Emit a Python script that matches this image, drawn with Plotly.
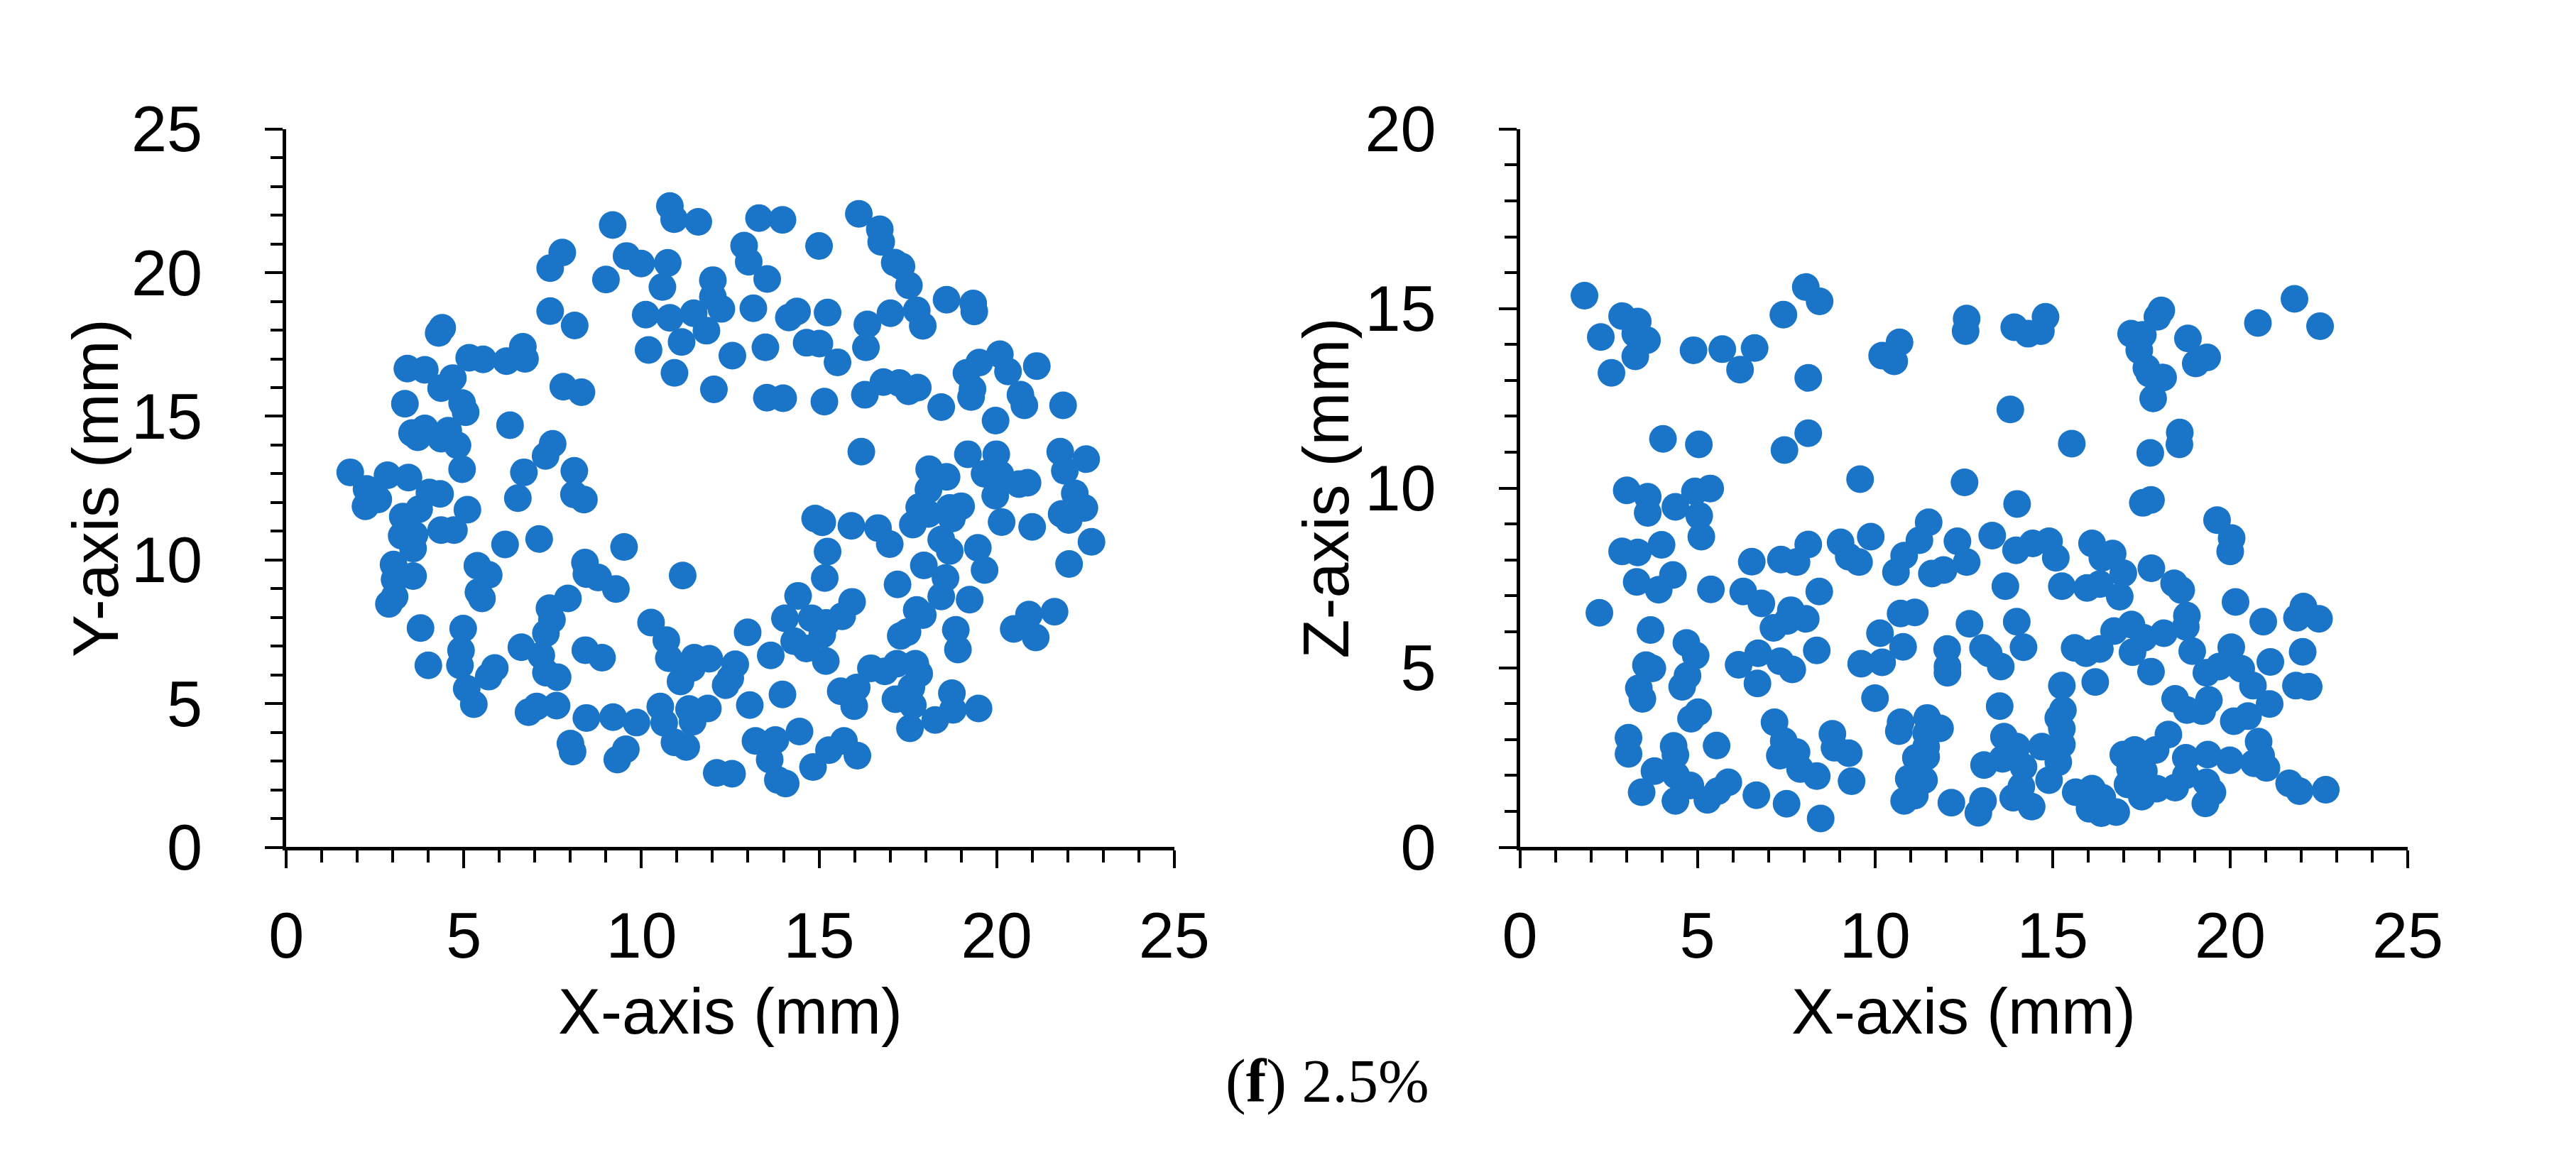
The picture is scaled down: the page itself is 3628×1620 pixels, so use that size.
import plotly.graph_objects as go

# left panel: X-Y positions (mm)
xy_x = [4.39, 4.29, 3.41, 3.90, 5.15, 5.54, 6.20, 6.66, 6.72, 4.69, 4.36, 3.34, 4.95, 5.05, 6.30,
        3.54, 3.90, 3.70, 4.56, 4.36, 4.82, 4.95, 1.80, 2.85, 3.44, 2.26, 4.03, 4.33, 6.69,
        2.23, 2.59, 3.28, 3.74, 3.25, 3.61, 3.57, 4.36, 4.72, 5.10, 6.52, 6.16, 3.02, 3.05, 3.57,
        3.05, 2.89, 5.38, 5.70, 5.41, 5.51, 3.78, 4.98, 4.92, 4.00, 4.89, 5.87, 5.70, 5.08, 5.28,
        6.62, 6.82, 7.05,
        10.80, 10.92, 11.60, 9.19, 13.31, 13.97, 12.89, 13.02, 13.54, 7.77, 7.43, 9.58, 9.99, 10.74,
        9.00, 10.59, 12.01, 12.01, 12.25, 13.15, 7.43, 8.12, 10.12, 10.80, 11.47, 11.83, 11.13,
        10.20, 10.93, 12.56, 13.49, 12.04, 13.53, 13.99, 7.80, 8.31, 7.50, 7.30, 8.11, 8.10, 8.38,
        7.12, 9.51, 8.41, 8.45, 8.78, 9.28, 11.16, 7.93, 7.41, 7.48, 7.31, 10.27, 10.70, 10.77, 11.49,
        11.91, 11.42, 11.10, 12.64, 12.50, 12.37, 12.99, 13.64, 13.97, 13.05, 8.42, 8.89, 7.61, 7.18,
        7.31, 7.64, 8.45, 9.20, 9.86, 10.53, 10.64, 10.93, 11.26, 11.34, 11.87, 11.44, 8.00, 8.06,
        9.56, 9.32, 12.12, 12.55, 13.21, 13.77, 13.61, 13.84, 14.06,
        16.12, 16.71, 16.75, 15.00, 17.13, 17.32, 17.53, 18.59, 19.34, 19.37,
        14.38, 14.15, 15.24, 16.36, 16.32, 17.01, 17.75, 17.92, 14.65, 15.01,
        15.52, 15.15, 16.29, 16.81, 17.26, 17.52, 17.78, 18.44, 19.15, 19.51,
        20.09, 20.32, 19.32, 19.28, 21.13, 20.67, 20.78, 19.97, 21.87, 16.19,
        19.19, 19.99, 21.79, 22.52, 21.92, 18.10, 18.59, 18.08, 19.66, 20.11,
        19.96, 20.63, 20.87, 22.20, 22.47, 21.83, 22.03, 22.67, 22.04, 21.00,
        20.14, 17.82, 17.64, 18.08, 18.68, 19.00, 18.74, 18.44, 18.68, 19.47,
        19.66, 17.95, 18.56, 18.44, 19.24, 17.21, 17.75, 17.92, 17.30, 17.49,
        18.85, 18.91, 20.91, 20.48, 21.10, 21.63, 14.89, 15.09, 15.91, 16.66,
        16.99, 15.24, 15.16, 14.41, 15.93, 15.65, 14.04, 14.79, 15.20, 14.30,
        14.64, 15.09, 15.19, 16.46, 16.85, 17.19, 17.71, 17.82, 15.61, 16.06,
        15.99, 17.15, 17.60, 17.64, 17.56, 18.74, 18.77, 18.27, 19.49, 14.45,
        15.28, 15.70, 16.08, 14.83]
xy_y = [18.08, 17.90, 16.66, 16.62, 17.04, 16.98, 16.92, 17.42, 17.00, 16.33, 15.98, 15.44, 15.46, 15.14, 14.69,
        14.42, 14.58, 14.27, 14.50, 14.22, 13.99, 13.16, 13.05, 12.95, 12.87, 12.47, 12.35, 12.30, 13.05,
        11.87, 12.11, 11.51, 11.77, 10.84, 10.88, 10.40, 11.04, 11.04, 11.75, 12.15, 10.54, 9.84, 9.32, 9.44,
        8.72, 8.47, 9.80, 9.48, 8.88, 8.66, 7.63, 7.61, 6.85, 6.33, 6.33, 6.24, 5.94, 5.52, 4.98,
        6.96, 4.70, 4.90,
        22.32, 21.86, 21.77, 21.66, 21.90, 21.84, 20.94, 20.38, 19.78, 20.70, 20.16, 20.58, 20.32, 20.34,
        19.76, 19.50, 19.74, 19.16, 18.74, 18.76, 18.66, 18.16, 18.54, 18.43, 18.59, 17.98, 17.59,
        17.31, 16.51, 17.11, 17.40, 15.94, 15.65, 15.63, 16.03, 15.84, 14.04, 13.62, 13.10, 12.28, 12.10,
        10.73, 10.45, 9.91, 9.51, 9.39, 8.99, 9.46, 8.66, 8.32, 7.92, 7.45, 7.82, 7.21, 6.58, 6.60,
        6.56, 6.24, 5.77, 6.37, 5.88, 5.64, 7.48, 6.68, 5.32, 4.95, 6.86, 6.60, 4.93, 6.68,
        6.08, 5.92, 4.50, 4.53, 4.34, 4.90, 4.33, 3.65, 3.49, 4.81, 4.83, 4.37, 3.61, 3.33,
        3.41, 3.05, 2.59, 2.56, 3.70, 3.73, 3.05, 2.34, 2.22,
        22.05, 21.51, 21.07, 20.93, 20.35, 20.22, 19.56, 19.06, 18.93, 18.65,
        18.65, 18.44, 18.61, 18.20, 17.40, 18.59, 18.69, 18.15, 17.56, 17.53,
        16.88, 15.51, 15.75, 16.19, 16.16, 15.87, 16.00, 15.32, 16.51, 16.87,
        17.16, 16.56, 15.95, 15.67, 16.75, 15.75, 15.38, 14.85, 15.38, 13.77,
        13.68, 13.68, 13.77, 13.51, 13.10, 13.16, 12.89, 12.45, 13.00, 12.97,
        12.24, 12.64, 12.69, 12.32, 11.81, 11.60, 11.39, 10.63, 9.86, 11.15,
        11.32, 11.84, 11.23, 11.60, 11.81, 11.87, 11.44, 10.71, 10.31, 10.42,
        9.65, 9.81, 9.37, 8.73, 8.62, 9.15, 8.26, 8.08, 7.36, 7.49,
        7.57, 6.88, 8.10, 7.60, 7.30, 8.20, 11.44, 11.31, 11.19, 11.11,
        10.55, 10.29, 9.37, 8.75, 8.54, 8.04, 7.97, 7.97, 7.81, 7.17,
        6.92, 7.40, 6.48, 6.23, 6.12, 6.39, 6.39, 6.04, 5.43, 5.56,
        4.91, 5.15, 5.56, 4.94, 4.14, 5.36, 4.78, 4.43, 4.83, 4.03,
        3.38, 3.70, 3.19, 2.79]

# right panel: X-Z positions (mm)
xz_x = [1.82, 2.88, 3.32, 2.28, 3.25, 3.58, 3.25, 2.58, 4.89, 5.70, 6.61, 6.20, 7.42, 4.03, 5.04,
        7.45, 3.01, 3.60, 3.60, 4.38, 4.93, 5.36, 5.05,
        8.05, 8.44, 10.69, 10.20, 10.54, 12.58, 12.55, 13.92, 14.31, 14.67, 14.80, 8.12, 13.81, 8.12,
        15.54, 9.58, 12.52, 14.00, 11.51,
        18.06, 17.95, 17.21, 17.54, 17.44, 17.64, 17.72, 18.11, 17.83, 18.81, 19.35, 19.03, 20.78,
        21.81, 22.53, 18.58, 18.57, 17.75, 17.54, 17.77, 19.63,
        2.88, 3.32, 3.99, 5.11, 3.29, 4.31, 3.91, 5.38, 2.24, 6.53, 7.35, 7.79, 8.12, 6.29, 6.80,
        7.63, 7.14, 7.53, 8.05, 3.68, 4.69, 4.95, 3.55, 3.73, 3.35, 3.45, 4.72, 4.57, 6.16, 6.71,
        7.33, 7.67, 6.69, 5.02, 4.82, 3.06, 3.06, 4.33, 4.38, 5.54, 3.79, 4.40, 3.43, 4.80, 4.38,
        5.28, 5.57, 5.87, 6.66, 7.51, 7.17, 7.43, 7.32, 7.79, 7.89,
        9.03, 9.26, 9.55, 9.88, 11.25, 10.82, 10.59, 11.60, 11.93, 12.32, 12.58, 13.30, 13.97, 14.44,
        14.90, 15.09, 16.11, 16.40, 8.43, 8.36, 10.14, 10.79, 10.72, 11.12, 9.61, 10.20, 12.03, 12.04,
        12.04, 12.66, 13.04, 13.20, 13.54, 13.67, 13.99, 14.18, 15.26, 15.97, 16.33, 15.62, 15.94,
        16.33, 10.00, 8.80, 8.86, 9.26, 8.36, 9.34, 8.47, 10.72, 10.67, 11.47, 11.83, 11.44, 11.44,
        11.15, 11.44, 10.95, 11.38, 11.12, 10.82, 12.15, 13.04, 12.91, 13.51, 13.63, 13.99, 13.59,
        13.07, 15.26, 15.29, 15.16, 15.26, 15.26, 14.70, 15.16, 14.90, 14.18, 14.12, 14.41, 13.89,
        16.20, 15.65, 16.11, 16.40, 16.04, 16.37,
        20.04, 20.00, 16.69, 16.99, 16.89, 17.78, 18.42, 18.62, 20.15, 20.93, 22.06, 21.88, 22.50,
        18.78, 18.75, 16.73, 17.22, 17.57, 17.25, 18.13, 18.93, 17.77, 20.03, 19.33, 19.69, 20.31,
        20.64, 19.40, 18.45, 18.78, 19.21, 21.13, 22.04, 21.85, 22.21, 21.11, 20.10, 20.50, 20.80,
        20.87, 21.02, 20.67, 19.99, 19.37, 18.75, 18.26, 16.99, 17.31, 17.90, 17.18, 17.57, 17.11,
        17.51, 16.79, 17.93, 18.45, 18.75, 19.33, 19.50, 19.30, 21.66, 21.95, 22.69]
xz_z = [15.36, 14.79, 14.64, 14.21, 14.30, 14.12, 13.67, 13.21, 13.84, 13.87, 13.90, 13.30, 14.83, 11.37, 11.22,
        11.06, 9.94, 9.76, 9.31, 9.48, 9.91, 9.99, 9.23,
        15.60, 15.20, 14.06, 13.69, 13.53, 14.72, 14.37, 14.48, 14.30, 14.37, 14.77, 13.07, 12.19, 11.53,
        11.24, 10.25, 10.16, 9.56, 9.05,
        14.95, 14.77, 14.30, 14.27, 13.84, 13.35, 13.19, 13.08, 12.50, 14.17, 13.64, 13.47, 14.60,
        15.27, 14.51, 11.55, 11.22, 10.98, 9.59, 9.67, 9.11,
        8.24, 8.21, 8.42, 8.65, 7.39, 7.58, 7.17, 7.18, 6.53, 7.95, 8.01, 7.94, 8.43, 7.12, 6.79,
        6.60, 6.11, 6.30, 6.36, 6.05, 5.69, 5.34, 5.07, 4.98, 4.43, 4.13, 4.78, 4.47, 5.08, 5.40,
        5.18, 4.95, 4.56, 3.76, 3.58, 3.05, 2.60, 2.82, 2.57, 2.83, 2.12, 2.00, 1.53, 1.72, 1.29,
        1.32, 1.56, 1.81, 1.45, 1.21, 3.48, 2.96, 2.55, 2.65, 2.18,
        8.49, 8.09, 7.94, 8.65, 8.55, 8.12, 7.66, 7.62, 7.72, 8.52, 7.94, 8.68, 8.27, 8.46,
        8.52, 8.06, 8.46, 8.06, 7.12, 5.48, 5.96, 5.58, 6.51, 6.54, 5.11, 5.15, 5.52, 5.03,
        4.86, 6.22, 5.55, 5.40, 5.03, 7.27, 6.28, 5.57, 7.27, 7.22, 7.33, 5.55, 5.40,
        5.52, 4.15, 3.16, 2.77, 2.62, 1.98, 1.84, 0.80, 3.48, 3.23, 3.60, 3.31, 3.17, 2.80,
        2.49, 2.52, 1.91, 1.87, 1.44, 1.29, 1.24, 1.29, 0.96, 3.93, 3.08, 2.80, 2.46,
        2.29, 4.50, 3.82, 3.60, 3.30, 2.86, 2.80, 2.37, 1.87, 2.24, 1.69, 1.13, 1.38,
        4.60, 1.53, 1.63, 1.38, 1.07, 0.95,
        8.61, 8.24, 8.18, 7.63, 6.98, 7.77, 7.35, 7.16, 6.83, 6.28, 6.70, 6.39, 6.36,
        6.45, 6.14, 6.02, 6.20, 5.83, 5.43, 5.96, 5.46, 4.89, 5.57, 4.86, 5.03, 4.97,
        4.50, 4.10, 4.13, 3.82, 3.79, 5.16, 5.44, 4.50, 4.47, 3.99, 3.51, 3.65, 2.94,
        2.55, 2.21, 2.34, 2.42, 2.58, 2.49, 3.14, 2.58, 2.71, 2.71, 2.18, 2.12, 1.75,
        1.41, 0.98, 1.63, 1.66, 2.00, 1.81, 1.53, 1.22, 1.78, 1.56, 1.60]

W, H = 3628, 1620
blue = "#1A75C8"
tick_font = dict(family="Liberation Sans, Arial", size=90, color="black")

fig = go.Figure()
fig.add_trace(go.Scatter(x=xy_x, y=xy_y, mode="markers", xaxis="x", yaxis="y",
                         marker=dict(size=39, color=blue, line=dict(width=0))))
fig.add_trace(go.Scatter(x=xz_x, y=xz_z, mode="markers", xaxis="x2", yaxis="y2",
                         marker=dict(size=39, color=blue, line=dict(width=0))))


def ax(domain, rng, anchor, standoff):
    return dict(domain=domain, range=rng, anchor=anchor, dtick=5, tick0=0,
                ticks="outside", ticklen=25, tickwidth=4, tickcolor="black",
                minor=dict(dtick=1, ticks="outside", ticklen=17, tickwidth=4, tickcolor="black"),
                showline=True, linewidth=5, linecolor="black", showgrid=False, zeroline=False,
                tickfont=tick_font, ticklabelstandoff=standoff, fixedrange=True)


ydom = [(H - 1211) / H, (H - 132) / H]
fig.update_layout(
    width=W, height=H, margin=dict(l=0, r=0, t=0, b=0),
    paper_bgcolor="white", plot_bgcolor="white", showlegend=False,
    xaxis=ax([378 / W, 1655 / W], [0, 25], "y", 18),
    yaxis=ax(ydom, [0, 25], "x", 70),
    xaxis2=ax([2152 / W, 3429 / W], [0, 25], "y2", 18),
    yaxis2=ax(ydom, [0, 20], "x2", 70),
)

title_font = dict(family="Liberation Sans, Arial", size=90, color="black")
notes = [
    dict(text="X-axis (mm)", x=1017 / W, y=(H - 1458) / H, textangle=0),
    dict(text="X-axis (mm)", x=2790 / W, y=(H - 1458) / H, textangle=0),
    dict(text="Y-axis (mm)", x=104 / W, y=(H - 671) / H, textangle=-90),
    dict(text="Z-axis (mm)", x=1874 / W, y=(H - 671) / H, textangle=-90),
]
for n in notes:
    fig.add_annotation(xref="paper", yref="paper", showarrow=False, font=title_font,
                       xanchor="center", yanchor="middle", **n)

fig.add_annotation(text="(<b>f</b>) 2.5%", xref="paper", yref="paper", x=1875 / W, y=(H - 1562) / H,
                   showarrow=False, xanchor="center", yanchor="middle",
                   font=dict(family="Liberation Serif, Times New Roman", size=86, color="black"))

fig.write_html("out.html")
